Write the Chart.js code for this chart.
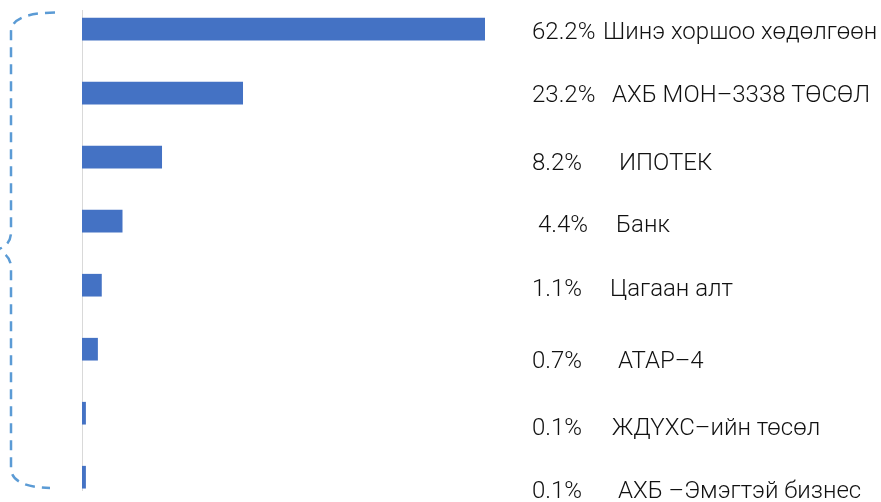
<!DOCTYPE html>
<html>
<head>
<meta charset="utf-8">
<script src="https://cdn.jsdelivr.net/npm/chart.js@4.4.1/dist/chart.umd.min.js"></script>
<style>
  html, body { margin: 0; padding: 0; background: #fff; }
  #wrap { width: 881px; height: 502px; position: relative; }
</style>
</head>
<body>
<div id="wrap"><canvas id="bar-chart" width="881" height="502"></canvas></div>
<script>
// category names (top to bottom)
const categories = [
  "Шинэ хоршоо хөдөлгөөн", "АХБ МОН–3338 ТӨСӨЛ", "ИПОТЕК", "Банк",
  "Цагаан алт", "АТАР–4", "ЖДҮХС–ийн төсөл", "АХБ –Эмэгтэй бизнес"
];

// share labels printed next to each row
const shareLabels = ["62.2%", "23.2%", "8.2%", "4.4%", "1.1%", "0.7%", "0.1%", "0.1%"];

// bar lengths as drawn in the picture (same units as the top bar)
const barValues = [62.2, 24.8, 12.3, 6.2, 3.0, 2.4, 0.55, 0.55];

// small per-row text nudges (layout only)
const pctX = [532, 532, 532, 538, 532, 532, 532, 532];
const nameX = [603, 612, 619, 616, 610, 618, 612, 618];
const baseOffset = [10, 8.5, 13, 11, 10.5, 18.5, 21.5, 21];

const ctx = document.getElementById('bar-chart').getContext('2d');

// Row labels on the right side
const rowLabels = {
  id: 'rowLabels',
  afterDraw(chart) {
    const c = chart.ctx;
    const yScale = chart.scales.y;
    c.save();
    c.fillStyle = '#111111';
    c.font = '300 24px Roboto, "Liberation Sans", sans-serif';
    c.textBaseline = 'alphabetic';
    c.textAlign = 'left';
    categories.forEach((name, i) => {
      const y = yScale.getPixelForValue(i) + baseOffset[i];
      c.fillText(shareLabels[i], pctX[i], y);
      c.fillText(name, nameX[i], y);
    });
    c.restore();
  }
};

// Dashed curly brace on the left
const bracePlugin = {
  id: 'brace',
  afterDraw(chart) {
    const c = chart.ctx;
    c.save();
    c.strokeStyle = '#5B9BD5';
    c.lineWidth = 2.5;
    c.setLineDash([10, 7]);
    c.beginPath();
    c.moveTo(55, 12.5);
    c.quadraticCurveTo(11, 13, 11, 32);
    c.lineTo(11, 232);
    c.quadraticCurveTo(11, 246, -4, 250);
    c.quadraticCurveTo(11, 254, 11, 268);
    c.lineTo(11, 468);
    c.quadraticCurveTo(11, 487, 50, 488);
    c.stroke();
    c.restore();
  }
};

new Chart(ctx, {
  type: 'bar',
  data: {
    datasets: [{
      data: barValues.map((v, i) => ({ x: v, y: i })),
      backgroundColor: '#4472C4',
      borderWidth: 0,
      barThickness: 22
    }]
  },
  options: {
    indexAxis: 'y',
    responsive: false,
    animation: false,
    layout: {
      padding: { left: 82, right: 396, top: 10, bottom: 12 }
    },
    plugins: {
      legend: { display: false },
      tooltip: { enabled: false }
    },
    scales: {
      x: {
        type: 'linear',
        display: false,
        min: 0,
        max: 62.2
      },
      y: {
        type: 'linear',
        reverse: true,
        offset: false,
        min: -0.3,
        max: 7.2,
        ticks: { display: false },
        grid: { display: false, drawTicks: false },
        border: { display: true, color: '#d9d9d9', width: 1 }
      }
    }
  },
  plugins: [rowLabels, bracePlugin]
});
</script>
</body>
</html>
